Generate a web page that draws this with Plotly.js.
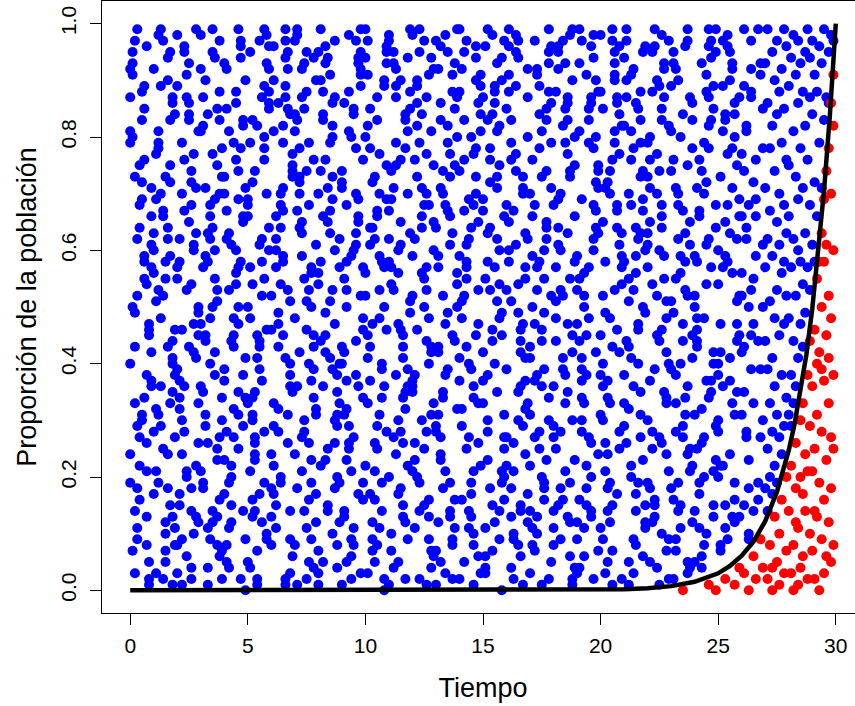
<!DOCTYPE html>
<html>
<head>
<meta charset="utf-8">
<script src="https://cdn.plot.ly/plotly-3.0.1.min.js"></script>
<style>
html,body{margin:0;padding:0;overflow:hidden;background:#ffffff;}
#chart{width:866px;height:706px;}
</style>
</head>
<body>
<div id="chart"></div>
<script>
// ---- axis ticks ----
const ticksX = [0, 5, 10, 15, 20, 25, 30];
const ticksY = [0, 0.2, 0.4, 0.6, 0.8, 1.0];

// ---- black curve ----
const curvaT = [0, 5, 10, 15, 18, 20, 21, 22, 23, 24, 25, 25.5, 26, 26.5, 27, 27.5, 28, 28.25, 28.5, 28.75, 29, 29.25, 29.5, 29.75, 29.9, 30];
const curvaP = [0, 0, 0, 0, 0.0002, 0.0009, 0.0018, 0.0037, 0.0074, 0.015, 0.030, 0.043, 0.061, 0.086, 0.122, 0.174, 0.247, 0.294, 0.350, 0.416, 0.497, 0.592, 0.705, 0.839, 0.932, 1];

// ---- blue points, time 0 to 26.9 ----
const tiempoAzul = [
0.3,0.7,0.1,0.9,0.4,0.0,0.6,0.2,0.8,0.5,0.3,0.9,0.1,0.7,0.4,0.6,0.0,0.8,0.2,0.5,0.7,0.3,
0.4,0.9,0.0,0.6,0.2,0.7,0.5,0.1,0.8,0.3,0.0,0.4,0.9,0.7,0.2,0.6,0.1,0.5,0.8,0.3,0.9,0.2,
0.6,0.0,0.3,0.8,0.1,0.4,0.9,0.7,0.2,0.5,0.9,0.0,0.4,0.6,0.3,0.1,0.8,0.7,0.2,0.5,0.0,0.6,
1.8,1.2,1.5,1.0,1.6,1.9,1.3,1.1,1.7,1.4,1.2,1.8,1.6,1.0,1.9,1.5,1.1,1.3,1.7,1.4,1.8,1.6,
1.1,1.5,1.8,1.2,1.9,1.6,1.0,1.4,1.3,1.7,1.5,1.2,1.8,1.1,1.6,1.9,1.4,1.0,1.7,1.3,1.5,1.8,
1.2,1.8,1.4,1.7,1.0,1.5,1.1,1.9,1.6,1.3,1.7,1.2,1.0,1.5,1.8,1.4,1.6,1.3,1.9,1.1,1.2,1.7,
2.4,2.9,2.0,2.6,2.2,2.7,2.5,2.1,2.8,2.3,2.0,2.4,2.9,2.7,2.2,2.6,2.1,2.5,2.8,2.3,2.9,2.2,
2.6,2.0,2.3,2.8,2.1,2.4,2.9,2.7,2.2,2.5,2.9,2.0,2.4,2.6,2.3,2.1,2.8,2.7,2.2,2.5,2.0,2.6,
2.9,2.4,2.6,2.1,2.5,2.3,2.7,2.0,2.2,2.8,2.1,2.6,2.3,2.9,2.0,2.7,2.5,2.2,2.4,2.8,2.6,2.1,
3.1,3.5,3.8,3.2,3.9,3.6,3.0,3.4,3.3,3.7,3.5,3.2,3.8,3.1,3.6,3.9,3.4,3.0,3.7,3.3,3.5,3.8,
3.2,3.8,3.4,3.7,3.0,3.5,3.1,3.9,3.6,3.3,3.7,3.2,3.0,3.5,3.8,3.4,3.6,3.3,3.9,3.1,3.2,3.7,
3.3,3.7,3.1,3.9,3.4,3.0,3.6,3.2,3.8,3.5,3.3,3.9,3.1,3.7,3.4,3.6,3.0,3.8,3.2,3.5,3.7,3.3,
4.6,4.0,4.3,4.8,4.1,4.4,4.9,4.7,4.2,4.5,4.9,4.0,4.4,4.6,4.3,4.1,4.8,4.7,4.2,4.5,4.0,4.6,
4.9,4.4,4.6,4.1,4.5,4.3,4.7,4.0,4.2,4.8,4.1,4.6,4.3,4.9,4.0,4.7,4.5,4.2,4.4,4.8,4.6,4.1,
4.8,4.2,4.5,4.0,4.6,4.9,4.3,4.1,4.7,4.4,4.2,4.8,4.6,4.0,4.9,4.5,4.1,4.3,4.7,4.4,4.8,4.6,
5.2,5.8,5.4,5.7,5.0,5.5,5.1,5.9,5.6,5.3,5.7,5.2,5.0,5.5,5.8,5.4,5.6,5.3,5.9,5.1,5.2,5.7,
5.3,5.7,5.1,5.9,5.4,5.0,5.6,5.2,5.8,5.5,5.3,5.9,5.1,5.7,5.4,5.6,5.0,5.8,5.2,5.5,5.7,5.3,
5.4,5.9,5.0,5.6,5.2,5.7,5.5,5.1,5.8,5.3,5.0,5.4,5.9,5.7,5.2,5.6,5.1,5.5,5.8,5.3,5.9,5.2,
6.9,6.4,6.6,6.1,6.5,6.3,6.7,6.0,6.2,6.8,6.1,6.6,6.3,6.9,6.0,6.7,6.5,6.2,6.4,6.8,6.6,6.1,
6.8,6.2,6.5,6.0,6.6,6.9,6.3,6.1,6.7,6.4,6.2,6.8,6.6,6.0,6.9,6.5,6.1,6.3,6.7,6.4,6.8,6.6,
6.1,6.5,6.8,6.2,6.9,6.6,6.0,6.4,6.3,6.7,6.5,6.2,6.8,6.1,6.6,6.9,6.4,6.0,6.7,6.3,6.5,6.8,
7.3,7.7,7.1,7.9,7.4,7.0,7.6,7.2,7.8,7.5,7.3,7.9,7.1,7.7,7.4,7.6,7.0,7.8,7.2,7.5,7.7,7.3,
7.1,7.5,7.8,7.2,7.9,7.6,7.0,7.4,7.3,7.7,7.5,7.2,7.8,7.1,7.6,7.9,7.4,7.0,7.7,7.3,7.5,7.8,
7.9,7.4,7.6,7.1,7.5,7.3,7.7,7.0,7.2,7.8,7.1,7.6,7.3,7.9,7.0,7.7,7.5,7.2,7.4,7.8,7.6,7.1,
8.8,8.2,8.5,8.0,8.6,8.9,8.3,8.1,8.7,8.4,8.2,8.8,8.6,8.0,8.9,8.5,8.1,8.3,8.7,8.4,8.8,8.6,
8.6,8.0,8.3,8.8,8.1,8.4,8.9,8.7,8.2,8.5,8.9,8.0,8.4,8.6,8.3,8.1,8.8,8.7,8.2,8.5,8.0,8.6,
8.3,8.7,8.1,8.9,8.4,8.0,8.6,8.2,8.8,8.5,8.3,8.9,8.1,8.7,8.4,8.6,8.0,8.8,8.2,8.5,8.7,8.3,
9.4,9.9,9.0,9.6,9.2,9.7,9.5,9.1,9.8,9.3,9.0,9.4,9.9,9.7,9.2,9.6,9.1,9.5,9.8,9.3,9.9,9.2,
9.2,9.8,9.4,9.7,9.0,9.5,9.1,9.9,9.6,9.3,9.7,9.2,9.0,9.5,9.8,9.4,9.6,9.3,9.9,9.1,9.2,9.7,
9.8,9.2,9.5,9.0,9.6,9.9,9.3,9.1,9.7,9.4,9.2,9.8,9.6,9.0,9.9,9.5,9.1,9.3,9.7,9.4,9.8,9.6,
10.1,10.5,10.8,10.2,10.9,10.6,10.0,10.4,10.3,10.7,10.5,10.2,10.8,10.1,10.6,10.9,10.4,10.0,10.7,10.3,10.5,10.8,
10.9,10.4,10.6,10.1,10.5,10.3,10.7,10.0,10.2,10.8,10.1,10.6,10.3,10.9,10.0,10.7,10.5,10.2,10.4,10.8,10.6,10.1,
10.4,10.9,10.0,10.6,10.2,10.7,10.5,10.1,10.8,10.3,10.0,10.4,10.9,10.7,10.2,10.6,10.1,10.5,10.8,10.3,10.9,10.2,
11.6,11.0,11.3,11.8,11.1,11.4,11.9,11.7,11.2,11.5,11.9,11.0,11.4,11.6,11.3,11.1,11.8,11.7,11.2,11.5,11.0,11.6,
11.3,11.7,11.1,11.9,11.4,11.0,11.6,11.2,11.8,11.5,11.3,11.9,11.1,11.7,11.4,11.6,11.0,11.8,11.2,11.5,11.7,11.3,
11.1,11.5,11.8,11.2,11.9,11.6,11.0,11.4,11.3,11.7,11.5,11.2,11.8,11.1,11.6,11.9,11.4,11.0,11.7,11.3,11.5,11.8,
12.2,12.8,12.4,12.7,12.0,12.5,12.1,12.9,12.6,12.3,12.7,12.2,12.0,12.5,12.8,12.4,12.6,12.3,12.9,12.1,12.2,12.7,
12.8,12.2,12.5,12.0,12.6,12.9,12.3,12.1,12.7,12.4,12.2,12.8,12.6,12.0,12.9,12.5,12.1,12.3,12.7,12.4,12.8,12.6,
12.6,12.0,12.3,12.8,12.1,12.4,12.9,12.7,12.2,12.5,12.9,12.0,12.4,12.6,12.3,12.1,12.8,12.7,12.2,12.5,12.0,12.6,
13.9,13.4,13.6,13.1,13.5,13.3,13.7,13.0,13.2,13.8,13.1,13.6,13.3,13.9,13.0,13.7,13.5,13.2,13.4,13.8,13.6,13.1,
13.4,13.9,13.0,13.6,13.2,13.7,13.5,13.1,13.8,13.3,13.0,13.4,13.9,13.7,13.2,13.6,13.1,13.5,13.8,13.3,13.9,13.2,
13.2,13.8,13.4,13.7,13.0,13.5,13.1,13.9,13.6,13.3,13.7,13.2,13.0,13.5,13.8,13.4,13.6,13.3,13.9,13.1,13.2,13.7,
14.3,14.7,14.1,14.9,14.4,14.0,14.6,14.2,14.8,14.5,14.3,14.9,14.1,14.7,14.4,14.6,14.0,14.8,14.2,14.5,14.7,14.3,
14.6,14.0,14.3,14.8,14.1,14.4,14.9,14.7,14.2,14.5,14.9,14.0,14.4,14.6,14.3,14.1,14.8,14.7,14.2,14.5,14.0,14.6,
14.8,14.2,14.5,14.0,14.6,14.9,14.3,14.1,14.7,14.4,14.2,14.8,14.6,14.0,14.9,14.5,14.1,14.3,14.7,14.4,14.8,14.6,
15.8,15.2,15.5,15.0,15.6,15.9,15.3,15.1,15.7,15.4,15.2,15.8,15.6,15.0,15.9,15.5,15.1,15.3,15.7,15.4,15.8,15.6,
15.2,15.8,15.4,15.7,15.0,15.5,15.1,15.9,15.6,15.3,15.7,15.2,15.0,15.5,15.8,15.4,15.6,15.3,15.9,15.1,15.2,15.7,
15.4,15.9,15.0,15.6,15.2,15.7,15.5,15.1,15.8,15.3,15.0,15.4,15.9,15.7,15.2,15.6,15.1,15.5,15.8,15.3,15.9,15.2,
16.4,16.9,16.0,16.6,16.2,16.7,16.5,16.1,16.8,16.3,16.0,16.4,16.9,16.7,16.2,16.6,16.1,16.5,16.8,16.3,16.9,16.2,
16.9,16.4,16.6,16.1,16.5,16.3,16.7,16.0,16.2,16.8,16.1,16.6,16.3,16.9,16.0,16.7,16.5,16.2,16.4,16.8,16.6,16.1,
16.1,16.5,16.8,16.2,16.9,16.6,16.0,16.4,16.3,16.7,16.5,16.2,16.8,16.1,16.6,16.9,16.4,16.0,16.7,16.3,16.5,16.8,
17.1,17.5,17.8,17.2,17.9,17.6,17.0,17.4,17.3,17.7,17.5,17.2,17.8,17.1,17.6,17.9,17.4,17.0,17.7,17.3,17.5,17.8,
17.3,17.7,17.1,17.9,17.4,17.0,17.6,17.2,17.8,17.5,17.3,17.9,17.1,17.7,17.4,17.6,17.0,17.8,17.2,17.5,17.7,17.3,
17.6,17.0,17.3,17.8,17.1,17.4,17.9,17.7,17.2,17.5,17.9,17.0,17.4,17.6,17.3,17.1,17.8,17.7,17.2,17.5,17.0,17.6,
18.6,18.0,18.3,18.8,18.1,18.4,18.9,18.7,18.2,18.5,18.9,18.0,18.4,18.6,18.3,18.1,18.8,18.7,18.2,18.5,18.0,18.6,
18.8,18.2,18.5,18.0,18.6,18.9,18.3,18.1,18.7,18.4,18.2,18.8,18.6,18.0,18.9,18.5,18.1,18.3,18.7,18.4,18.8,18.6,
18.2,18.8,18.4,18.7,18.0,18.5,18.1,18.9,18.6,18.3,18.7,18.2,18.0,18.5,18.8,18.4,18.6,18.3,18.9,18.1,18.2,18.7,
19.2,19.8,19.4,19.7,19.0,19.5,19.1,19.9,19.6,19.3,19.7,19.2,19.0,19.5,19.8,19.4,19.6,19.3,19.9,19.1,19.2,19.7,
19.4,19.9,19.0,19.6,19.2,19.7,19.5,19.1,19.8,19.3,19.0,19.4,19.9,19.7,19.2,19.6,19.1,19.5,19.8,19.3,19.9,19.2,
19.9,19.4,19.6,19.1,19.5,19.3,19.7,19.0,19.2,19.8,19.1,19.6,19.3,19.9,19.0,19.7,19.5,19.2,19.4,19.8,19.6,19.1,
20.9,20.4,20.6,20.1,20.5,20.3,20.7,20.0,20.2,20.8,20.1,20.6,20.3,20.9,20.0,20.7,20.5,20.2,20.4,20.8,20.6,20.1,
20.1,20.5,20.8,20.2,20.9,20.6,20.0,20.4,20.3,20.7,20.5,20.2,20.8,20.1,20.6,20.9,20.4,20.0,20.7,20.3,20.5,20.8,
20.3,20.7,20.1,20.9,20.4,20.0,20.6,20.2,20.8,20.5,20.3,20.9,20.1,20.7,20.4,20.6,20.0,20.8,20.2,20.5,20.7,20.3,
21.3,21.7,21.1,21.9,21.4,21.0,21.6,21.2,21.8,21.5,21.3,21.9,21.1,21.7,21.4,21.6,21.0,21.8,21.2,21.5,21.7,21.3,
21.2,21.8,21.4,21.7,21.0,21.5,21.1,21.9,21.6,21.3,21.7,21.2,21.0,21.5,21.8,21.4,21.6,21.3,21.9,21.1,21.2,21.7,
21.1,21.5,21.8,21.2,21.9,21.6,21.0,21.4,21.3,21.7,21.5,21.2,21.8,21.1,21.6,21.9,21.4,21.0,21.7,21.3,21.5,21.8,
22.8,22.2,22.5,22.0,22.6,22.9,22.3,22.1,22.7,22.4,22.2,22.8,22.6,22.0,22.9,22.5,22.1,22.3,22.7,22.4,22.8,22.6,
22.9,22.4,22.6,22.1,22.5,22.3,22.7,22.0,22.2,22.8,22.1,22.6,22.3,22.9,22.0,22.7,22.5,22.2,22.4,22.8,22.6,22.1,
22.6,22.0,22.3,22.8,22.1,22.4,22.9,22.7,22.2,22.5,22.9,22.0,22.4,22.6,22.3,22.1,22.8,22.7,22.2,22.5,22.0,22.6,
23.4,23.9,23.0,23.6,23.2,23.7,23.5,23.1,23.8,23.3,23.0,23.4,23.9,23.7,23.2,23.6,23.1,23.5,23.8,23.3,23.9,23.2,
23.2,23.8,23.4,23.7,23.0,23.5,23.1,23.9,23.6,23.3,23.7,23.2,23.0,23.5,23.8,23.4,23.6,23.3,23.9,23.1,23.2,23.7,
23.3,23.7,23.1,23.9,23.4,23.0,23.6,23.2,23.8,23.5,23.3,23.9,23.1,23.7,23.4,23.6,23.0,23.8,23.2,23.5,23.7,
24.1,24.5,24.8,24.2,24.9,24.6,24.0,24.4,24.3,24.7,24.5,24.2,24.8,24.1,24.6,24.9,24.4,24.0,24.7,24.3,24.5,24.8,
24.9,24.4,24.6,24.1,24.5,24.3,24.7,24.0,24.2,24.8,24.1,24.6,24.3,24.9,24.0,24.7,24.5,24.2,24.4,24.8,24.6,24.1,
24.8,24.2,24.5,24.0,24.6,24.9,24.3,24.1,24.7,24.4,24.2,24.8,24.6,24.0,24.9,24.5,24.1,24.3,24.7,24.4,
25.6,25.0,25.3,25.8,25.1,25.4,25.9,25.7,25.2,25.5,25.9,25.0,25.4,25.6,25.3,25.1,25.8,25.7,25.2,25.5,25.0,25.6,
25.3,25.7,25.1,25.9,25.4,25.0,25.6,25.2,25.8,25.5,25.3,25.9,25.1,25.7,25.4,25.6,25.0,25.8,25.2,25.5,25.7,25.3,
25.4,25.9,25.0,25.6,25.2,25.7,25.5,25.1,25.8,25.3,25.0,25.4,25.9,25.7,25.2,25.6,25.1,25.5,25.8,
26.3,26.0,26.4,26.1,26.2,26.4,26.0,26.3,26.2,26.1,26.0,26.4,26.2,26.3,26.1,26.4,26.0,26.2,26.3,26.1,26.4,26.0,26.3,26.1,26.2,26.0,26.4,26.3,26.2,26.1,26.4,
26.7,26.5,26.9,26.6,26.8,26.5,26.9,26.7,26.6,26.8,26.9,26.5,26.7,26.8,26.6,26.5,26.9,26.7,26.6,26.8,26.5,26.9,26.6,26.7,26.8,26.5,26.9,26.6,26.8,26.7
];
const propAzul = [
0.52,0.08,0.91,0.37,0.64,0.19,0.76,0.43,0.02,0.88,0.29,0.57,0.95,0.13,0.68,0.34,0.81,0.05,0.49,0.72,0.26,0.99,
0.16,0.61,0.40,0.85,0.03,0.54,0.30,0.93,0.47,0.11,0.79,0.22,0.66,0.38,0.97,0.58,0.07,0.83,0.45,0.18,0.71,0.33,
0.89,0.24,0.62,0.01,0.50,0.75,0.36,0.96,0.14,0.69,0.42,0.87,0.27,0.59,0.09,0.80,0.46,0.21,0.73,0.31,0.92,0.55,
0.35,0.78,0.12,0.60,0.94,0.27,0.48,0.03,0.83,0.66,0.19,0.41,0.90,0.56,0.08,0.73,0.32,0.99,0.15,0.52,0.86,0.24,
0.69,0.05,0.44,0.81,0.38,0.62,0.17,0.97,0.29,0.75,0.10,0.53,0.87,0.21,0.64,0.46,0.02,0.92,0.33,0.70,0.58,0.13,
0.79,0.40,0.25,0.95,0.63,0.07,0.51,0.84,0.18,0.36,0.72,0.98,0.28,0.55,0.01,0.67,0.43,0.89,0.11,0.77,0.31,0.59,
0.91,0.26,0.57,0.04,0.70,0.42,0.83,0.15,0.63,0.36,0.98,0.20,0.49,0.77,0.09,0.54,0.32,0.86,0.13,0.67,0.45,0.01,
0.74,0.39,0.95,0.22,0.58,0.06,0.81,0.47,0.30,0.65,0.12,0.89,0.53,0.18,0.76,0.34,0.99,0.61,0.24,0.43,0.08,0.72,
0.50,0.87,0.14,0.37,0.93,0.28,0.60,0.03,0.79,0.41,0.17,0.68,0.96,0.33,0.55,0.10,0.84,0.46,0.21,0.71,0.02,0.62,
0.18,0.64,0.83,0.31,0.07,0.55,0.92,0.40,0.26,0.75,0.12,0.59,0.97,0.35,0.69,0.02,0.48,0.81,0.23,0.63,0.14,0.88,
0.44,0.70,0.09,0.53,0.36,0.95,0.19,0.78,0.60,0.04,0.85,0.29,0.47,0.99,0.16,0.66,0.38,0.11,0.73,0.57,0.90,0.25,
0.01,0.51,0.82,0.34,0.68,0.21,0.94,0.45,0.06,0.77,0.58,0.30,0.87,0.13,0.62,0.42,0.98,0.27,0.71,0.50,0.08,0.84,
0.47,0.93,0.20,0.66,0.05,0.79,0.34,0.58,0.11,0.86,0.41,0.73,0.27,0.99,0.15,0.62,0.38,0.02,0.81,0.54,0.23,0.69,
0.90,0.32,0.57,0.08,0.76,0.44,0.96,0.17,0.63,0.29,0.85,0.50,0.12,0.71,0.37,0.94,0.60,0.04,0.48,0.82,0.25,0.67,
0.14,0.53,0.88,0.39,0.74,0.00,0.61,0.28,0.97,0.45,0.19,0.83,0.35,0.70,0.09,0.56,0.92,0.22,0.78,0.43,0.65,0.31,
0.72,0.10,0.45,0.89,0.33,0.61,0.04,0.96,0.52,0.27,0.80,0.16,0.68,0.39,0.93,0.07,0.58,0.24,0.85,0.48,0.13,0.76,
0.35,0.99,0.21,0.64,0.02,0.50,0.87,0.30,0.70,0.43,0.14,0.92,0.57,0.19,0.82,0.37,0.66,0.09,0.54,0.97,0.28,0.74,
0.41,0.86,0.05,0.62,0.31,0.78,0.17,0.95,0.46,0.23,0.69,0.01,0.88,0.55,0.34,0.12,0.79,0.44,0.98,0.26,0.60,0.83,
0.06,0.54,0.87,0.29,0.71,0.43,0.95,0.18,0.62,0.36,0.81,0.02,0.49,0.77,0.24,0.92,0.58,0.11,0.68,0.40,0.97,0.33,
0.84,0.15,0.59,0.46,0.01,0.75,0.28,0.90,0.53,0.20,0.66,0.38,0.99,0.08,0.73,0.45,0.17,0.86,0.31,0.64,0.51,0.94,
0.22,0.79,0.03,0.57,0.35,0.89,0.13,0.70,0.47,0.26,0.82,0.60,0.09,0.96,0.41,0.74,0.19,0.52,0.85,0.32,0.67,0.14,
0.63,0.37,0.98,0.12,0.55,0.81,0.26,0.70,0.04,0.46,0.92,0.31,0.67,0.19,0.85,0.53,0.08,0.76,0.42,0.95,0.23,0.59,
0.01,0.88,0.34,0.64,0.17,0.79,0.48,0.93,0.27,0.57,0.11,0.72,0.39,0.83,0.05,0.61,0.30,0.97,0.50,0.21,0.74,0.45,
0.90,0.14,0.68,0.36,0.02,0.87,0.56,0.24,0.78,0.43,0.99,0.16,0.65,0.32,0.84,0.09,0.51,0.73,0.28,0.94,0.40,0.18,
0.29,0.84,0.51,0.07,0.73,0.40,0.96,0.22,0.60,0.15,0.88,0.35,0.69,0.03,0.57,0.79,0.44,0.93,0.18,0.65,0.31,0.82,
0.10,0.54,0.76,0.38,0.99,0.25,0.62,0.47,0.05,0.91,0.33,0.70,0.14,0.86,0.42,0.58,0.20,0.97,0.36,0.67,0.01,0.80,
0.49,0.26,0.74,0.12,0.94,0.56,0.39,0.83,0.08,0.63,0.45,0.19,0.90,0.30,0.71,0.53,0.95,0.04,0.66,0.41,0.87,0.23,
0.80,0.19,0.43,0.97,0.32,0.66,0.08,0.55,0.89,0.25,0.71,0.02,0.48,0.93,0.37,0.61,0.14,0.84,0.52,0.29,0.76,0.05,
0.58,0.91,0.21,0.69,0.40,0.11,0.86,0.34,0.63,0.98,0.17,0.50,0.74,0.27,0.92,0.06,0.44,0.81,0.57,0.13,0.68,0.36,
0.95,0.23,0.60,0.01,0.78,0.46,0.88,0.31,0.65,0.09,0.53,0.99,0.38,0.72,0.16,0.85,0.42,0.26,0.94,0.59,0.03,0.70,
0.41,0.67,0.02,0.85,0.28,0.53,0.94,0.16,0.72,0.39,0.08,0.61,0.90,0.33,0.77,0.46,0.21,0.99,0.58,0.12,0.83,0.36,
0.69,0.05,0.48,0.91,0.25,0.64,0.14,0.80,0.43,0.57,0.97,0.31,0.09,0.75,0.52,0.19,0.87,0.37,0.62,0.00,0.70,0.45,
0.26,0.93,0.56,0.11,0.78,0.34,0.66,0.03,0.89,0.47,0.22,0.73,0.96,0.40,0.17,0.59,0.82,0.29,0.50,0.07,0.95,0.64,
0.13,0.58,0.92,0.36,0.74,0.05,0.49,0.83,0.27,0.65,0.99,0.20,0.56,0.41,0.87,0.10,0.70,0.32,0.95,0.18,0.62,0.45,
0.79,0.02,0.54,0.88,0.30,0.67,0.15,0.93,0.39,0.76,0.24,0.51,0.07,0.84,0.60,0.34,0.97,0.22,0.71,0.46,0.12,0.89,
0.57,0.28,0.81,0.04,0.63,0.43,0.98,0.17,0.75,0.35,0.90,0.53,0.09,0.69,0.26,0.85,0.47,0.01,0.78,0.38,0.61,0.94,
0.86,0.31,0.64,0.09,0.52,0.97,0.23,0.75,0.44,0.02,0.68,0.90,0.37,0.15,0.81,0.56,0.28,0.95,0.60,0.11,0.73,0.40,
0.04,0.89,0.50,0.21,0.77,0.33,0.99,0.62,0.16,0.84,0.46,0.07,0.70,0.35,0.92,0.55,0.26,0.79,0.13,0.66,0.42,0.01,
0.87,0.59,0.19,0.94,0.38,0.71,0.06,0.48,0.82,0.25,0.65,0.98,0.30,0.53,0.14,0.76,0.43,0.91,0.20,0.68,0.36,0.57,
0.50,0.03,0.77,0.42,0.95,0.18,0.63,0.29,0.86,0.11,0.57,0.73,0.34,0.99,0.07,0.45,0.82,0.24,0.68,0.93,0.14,0.59,
0.38,0.80,0.01,0.66,0.27,0.91,0.49,0.12,0.75,0.35,0.97,0.21,0.54,0.88,0.05,0.61,0.43,0.79,0.16,0.70,0.32,0.96,
0.23,0.85,0.47,0.09,0.64,0.39,0.92,0.56,0.19,0.74,0.02,0.83,0.28,0.67,0.44,0.98,0.13,0.52,0.87,0.31,0.71,0.08,
0.25,0.70,0.48,0.91,0.14,0.59,0.36,0.83,0.06,0.64,0.97,0.22,0.51,0.78,0.40,0.01,0.88,0.33,0.67,0.17,0.94,0.55,
0.10,0.74,0.43,0.86,0.29,0.62,0.03,0.96,0.52,0.19,0.81,0.37,0.69,0.08,0.57,0.92,0.26,0.45,0.76,0.13,0.99,0.34,
0.65,0.05,0.80,0.41,0.21,0.89,0.58,0.32,0.73,0.11,0.95,0.47,0.68,0.02,0.84,0.39,0.16,0.61,0.90,0.27,0.53,0.77,
0.94,0.38,0.12,0.67,0.81,0.25,0.53,0.06,0.75,0.44,0.99,0.19,0.62,0.87,0.31,0.57,0.03,0.72,0.48,0.15,0.90,0.35,
0.58,0.21,0.84,0.09,0.69,0.40,0.96,0.27,0.51,0.78,0.14,0.63,0.33,0.89,0.00,0.46,0.73,0.18,0.97,0.55,0.30,0.82,
0.07,0.66,0.42,0.93,0.23,0.60,0.86,0.11,0.49,0.76,0.37,0.98,0.16,0.54,0.28,0.71,0.04,0.88,0.45,0.64,0.20,0.83,
0.61,0.17,0.85,0.42,0.04,0.73,0.30,0.96,0.55,0.21,0.68,0.89,0.12,0.47,0.79,0.36,0.99,0.08,0.63,0.26,0.92,0.51,
0.33,0.77,0.15,0.58,0.94,0.02,0.70,0.39,0.83,0.24,0.65,0.46,0.10,0.87,0.53,0.29,0.97,0.18,0.74,0.41,0.06,0.60,
0.91,0.35,0.57,0.13,0.80,0.44,0.22,0.95,0.67,0.01,0.49,0.76,0.32,0.88,0.14,0.62,0.98,0.27,0.71,0.09,0.54,0.37,
0.08,0.46,0.93,0.27,0.71,0.55,0.14,0.84,0.38,0.62,0.01,0.97,0.30,0.76,0.19,0.52,0.89,0.43,0.65,0.10,0.81,0.34,
0.92,0.23,0.59,0.05,0.78,0.41,0.16,0.68,0.99,0.36,0.53,0.86,0.11,0.74,0.28,0.60,0.03,0.95,0.47,0.20,0.83,0.57,
0.39,0.70,0.13,0.88,0.50,0.25,0.96,0.64,0.07,0.44,0.79,0.31,0.58,0.18,0.91,0.66,0.02,0.85,0.37,0.73,0.22,0.49,
0.77,0.29,0.53,0.02,0.88,0.41,0.66,0.19,0.95,0.33,0.58,0.11,0.82,0.47,0.70,0.25,0.99,0.06,0.61,0.38,0.14,0.86,
0.45,0.92,0.21,0.68,0.35,0.80,0.09,0.57,0.73,0.16,0.96,0.42,0.63,0.27,0.04,0.85,0.51,0.18,0.74,0.39,0.90,0.13,
0.64,0.30,0.97,0.55,0.08,0.79,0.44,0.23,0.87,0.60,0.12,0.69,0.36,0.93,0.01,0.52,0.83,0.28,0.75,0.48,0.15,0.98,
0.34,0.90,0.15,0.62,0.47,0.83,0.04,0.71,0.26,0.56,0.98,0.39,0.12,0.79,0.64,0.22,0.87,0.50,0.07,0.93,0.41,0.68,
0.18,0.75,0.53,0.96,0.30,0.02,0.85,0.44,0.67,0.11,0.59,0.91,0.24,0.78,0.37,0.14,0.99,0.48,0.72,0.06,0.63,0.28,
0.88,0.45,0.20,0.81,0.57,0.33,0.94,0.09,0.69,0.42,0.16,0.86,0.52,0.74,0.03,0.60,0.27,0.97,0.38,0.80,0.13,0.55,
0.59,0.12,0.81,0.36,0.97,0.24,0.68,0.45,0.03,0.77,0.52,0.90,0.18,0.63,0.31,0.86,0.07,0.49,0.74,0.28,0.95,0.40,
0.65,0.01,0.84,0.21,0.57,0.93,0.38,0.70,0.14,0.46,0.99,0.26,0.61,0.09,0.79,0.54,0.33,0.88,0.17,0.72,0.43,0.96,
0.05,0.67,0.30,0.82,0.48,0.11,0.91,0.58,0.25,0.76,0.37,0.02,0.85,0.64,0.19,0.53,0.98,0.42,0.71,0.15,0.87,0.34,
0.20,0.73,0.44,0.96,0.09,0.58,0.85,0.32,0.67,0.14,0.91,0.49,0.26,0.79,0.03,0.62,0.38,0.95,0.55,0.17,0.83,0.41,
0.70,0.06,0.53,0.88,0.29,0.64,0.97,0.12,0.46,0.76,0.35,0.01,0.82,0.59,0.23,0.92,0.40,0.68,0.15,0.87,0.51,0.31,
0.99,0.08,0.74,0.43,0.60,0.19,0.94,0.36,0.81,0.27,0.56,0.05,0.69,0.90,0.47,0.11,0.78,0.33,0.63,0.22,0.86,0.50,
0.48,0.95,0.27,0.63,0.10,0.82,0.39,0.71,0.55,0.04,0.88,0.33,0.66,0.19,0.97,0.44,0.76,0.13,0.59,0.90,0.24,0.68,
0.02,0.52,0.85,0.37,0.74,0.16,0.93,0.61,0.28,0.07,0.80,0.46,0.99,0.21,0.57,0.35,0.89,0.12,0.70,0.42,0.64,0.05,
0.83,0.30,0.96,0.51,0.18,0.77,0.40,0.87,0.25,0.60,0.09,0.73,0.45,0.98,0.15,0.65,0.34,0.92,0.54,0.01,0.79,0.26,
0.56,0.12,0.89,0.34,0.71,0.03,0.47,0.93,0.25,0.62,0.18,0.80,0.41,0.97,0.07,0.53,0.76,0.29,0.65,0.14,0.86,0.38,
0.92,0.21,0.59,0.05,0.74,0.44,0.16,0.83,0.31,0.68,0.99,0.09,0.51,0.27,0.87,0.40,0.63,0.19,0.78,0.02,0.55,0.36,
0.70,0.24,0.95,0.45,0.11,0.81,0.58,0.33,0.04,0.67,0.90,0.22,0.49,0.75,0.15,0.96,0.39,0.61,0.28,0.84,0.52,
0.43,0.88,0.15,0.67,0.29,0.96,0.52,0.08,0.74,0.37,0.61,0.19,0.85,0.46,0.99,0.23,0.70,0.05,0.57,0.32,0.91,0.13,
0.64,0.27,0.82,0.48,0.10,0.93,0.35,0.59,0.76,0.21,0.44,0.87,0.06,0.68,0.31,0.97,0.54,0.17,0.79,0.40,0.62,0.25,
0.89,0.11,0.72,0.50,0.34,0.95,0.04,0.58,0.83,0.20,0.66,0.42,0.78,0.14,0.99,0.37,
0.71,0.26,0.94,0.48,0.13,0.60,0.83,0.35,0.07,0.77,0.52,0.19,0.89,0.41,0.66,0.30,0.98,0.56,0.11,0.73,0.44,0.86,
0.22,0.63,0.38,0.92,0.15,0.80,0.47,0.69,0.09,0.54,0.33,0.97,0.75,0.24,0.59,0.87,0.42,0.16,0.68,0.93,0.28,0.51,
0.81,0.37,0.12,0.65,0.96,0.45,0.20,0.78,0.57,0.31,0.90,0.08,0.62,0.84,0.40,
0.58,0.13,0.84,0.36,0.71,0.22,0.95,0.47,0.10,0.66,0.39,0.89,0.27,0.53,0.77,0.18,0.62,0.99,0.31,0.45,0.82,0.09,0.74,0.92,0.56,0.28,0.68,0.15,0.87,0.42,0.50,
0.35,0.81,0.52,0.97,0.23,0.64,0.43,0.88,0.16,0.72,0.30,0.59,0.93,0.47,0.78,0.19,0.66,0.39,0.85,0.55,0.99,0.27,0.69,0.14,0.61,0.44,0.76,0.91,0.33,0.50
];

// ---- blue points next to the curve, time 27 to 29.9 ----
const tiempoAzulCola = [
27.0,27.0,27.0,27.0,27.0, 27.1,27.1,27.1,27.1,27.1,27.1, 27.2,27.2,27.2,27.2,27.2,
27.3,27.3,27.3,27.3,27.3,27.3, 27.4,27.4,27.4,27.4,27.4, 27.5,27.5,27.5,27.5,27.5,27.5,
27.6,27.6,27.6,27.6,27.6, 27.7,27.7,27.7,27.7,27.7, 27.8,27.8,27.8,27.8,27.8,27.8, 27.9,27.9,27.9,27.9,27.9,
28.0,28.0,28.0,28.0,28.0, 28.1,28.1,28.1,28.1, 28.2,28.2,28.2,28.2,28.2, 28.3,28.3,28.3,28.3,
28.4,28.4,28.4,28.4,28.4, 28.5,28.5,28.5,28.5, 28.6,28.6,28.6,28.6, 28.7,28.7,28.7,28.7,
28.8,28.8,28.8, 28.9,28.9,28.9,28.9,
29.0,29.0,29.0, 29.1,29.1,29.1, 29.2,29.2, 29.3,29.3, 29.4,29.4, 29.5,29.5, 29.6, 29.7,29.7, 29.8, 29.9
];
const propAzulCola = [
0.18,0.44,0.71,0.93,0.57, 0.25,0.62,0.86,0.39,0.99,0.14, 0.33,0.78,0.51,0.20,0.67,
0.41,0.95,0.17,0.59,0.82,0.28, 0.22,0.48,0.74,0.36,0.90, 0.53,0.19,0.84,0.65,0.31,0.97,
0.27,0.70,0.45,0.88,0.61, 0.38,0.92,0.24,0.56,0.79, 0.47,0.68,0.29,0.85,0.99,0.58, 0.34,0.76,0.52,0.96,0.63,
0.31,0.66,0.89,0.48,0.75, 0.38,0.57,0.94,0.29, 0.44,0.81,0.62,0.98,0.33, 0.52,0.73,0.36,0.91,
0.41,0.86,0.60,0.69,0.97, 0.47,0.78,0.58,0.93, 0.54,0.88,0.43,0.71, 0.63,0.95,0.49,0.82,
0.57,0.76,0.99, 0.68,0.87,0.53,0.94,
0.61,0.84,0.97, 0.72,0.58,0.91, 0.66,0.88, 0.79,0.96, 0.71,0.93, 0.83,0.99, 0.87, 0.95,0.86, 0.98, 0.97
];

// ---- red points (below the curve) ----
const tiempoRojo = [
23.5,24.6,24.9,25.3,25.7,25.9,
26.1,26.3,26.5,26.6,26.8,26.9,
27.1,27.2,27.3,27.4,27.5,27.6,27.6,27.7,27.8,27.9,27.9,27.3,
28.0,28.1,28.1,28.2,28.3,28.3,28.4,28.4,28.5,28.5,28.6,28.6,
28.7,28.7,28.8,28.8,28.9,28.9,28.2,28.5,28.9,28.6,28.3,28.8,
29.0,29.0,29.1,29.1,29.1,29.2,29.2,29.2,29.3,29.3,29.3,29.3,
29.4,29.4,29.4,29.4,29.5,29.5,29.5,29.5,29.5,29.6,29.6,29.6,
29.6,29.6,29.7,29.7,29.7,29.7,29.7,29.8,29.8,29.8,29.8,29.8,
29.8,29.9,29.9,29.9,29.9,29.9,29.9,29.0,29.2,29.4,29.1
];
const propRojo = [
0.00,0.01,0.00,0.02,0.01,0.04,
0.03,0.00,0.06,0.02,0.09,0.04,
0.02,0.08,0.00,0.13,0.05,0.10,0.01,0.16,0.03,0.20,0.07,0.04,
0.14,0.22,0.03,0.08,0.18,0.26,0.11,0.01,0.30,0.20,0.06,0.33,
0.24,0.14,0.02,0.38,0.29,0.10,0.00,0.04,0.44,0.17,0.12,0.21,
0.36,0.07,0.46,0.25,0.02,0.55,0.31,0.13,0.42,0.19,0.58,0.00,
0.50,0.28,0.09,0.63,0.37,0.16,0.58,0.03,0.69,0.45,0.23,0.74,
0.06,0.61,0.33,0.12,0.52,0.78,0.41,0.27,0.05,0.70,0.86,0.18,
0.48,0.38,0.60,0.91,0.08,0.82,0.25,0.21,0.40,0.39,0.14
];

// ---- build traces ----
const nAzul = Math.min(tiempoAzul.length, propAzul.length);
const nCola = Math.min(tiempoAzulCola.length, propAzulCola.length);
const nRojo = Math.min(tiempoRojo.length, propRojo.length);

const xAzul = tiempoAzul.slice(0, nAzul).concat(tiempoAzulCola.slice(0, nCola));
const yAzul = propAzul.slice(0, nAzul).concat(propAzulCola.slice(0, nCola));

const fontFam = 'Liberation Sans, Arimo, Arial, Helvetica, sans-serif';

const traces = [
  {
    type: 'scatter', mode: 'markers', name: 'azul',
    x: xAzul, y: yAzul,
    marker: {color: '#0000ff', size: 10, line: {width: 0}},
    hoverinfo: 'skip'
  },
  {
    type: 'scatter', mode: 'markers', name: 'rojo',
    x: tiempoRojo.slice(0, nRojo), y: propRojo.slice(0, nRojo),
    marker: {color: '#ff0000', size: 10, line: {width: 0}},
    hoverinfo: 'skip'
  },
  {
    type: 'scatter', mode: 'lines', name: 'curva',
    x: curvaT, y: curvaP,
    line: {color: '#000000', width: 4.5},
    hoverinfo: 'skip'
  }
];

const layout = {
  width: 866, height: 706,
  margin: {l: 102, r: 2, t: 1, b: 93, pad: 0},
  paper_bgcolor: '#ffffff', plot_bgcolor: '#ffffff',
  showlegend: false,
  font: {family: fontFam, size: 21, color: '#000000'},
  xaxis: {
    range: [-1.2, 31.2],
    tickvals: ticksX,
    ticks: 'outside', ticklen: 11, tickwidth: 1, tickcolor: '#000000',
    ticklabelstandoff: 3,
    showline: true, mirror: true, linecolor: '#000000', linewidth: 1.2,
    showgrid: false, zeroline: false,
    tickfont: {family: fontFam, size: 21, color: '#000000'},
    title: {text: 'Tiempo', font: {family: fontFam, size: 27, color: '#000000'}, standoff: 21}
  },
  yaxis: {
    range: [-0.04, 1.04],
    tickvals: ticksY, tickformat: '.1f', tickangle: -90,
    ticks: 'outside', ticklen: 11, tickwidth: 1, tickcolor: '#000000',
    ticklabelstandoff: 5,
    showline: true, mirror: true, linecolor: '#000000', linewidth: 1.2,
    showgrid: false, zeroline: false,
    tickfont: {family: fontFam, size: 21, color: '#000000'},
    title: {text: 'Proporción de la población', font: {family: fontFam, size: 27, color: '#000000'}, standoff: 13}
  }
};

Plotly.newPlot('chart', traces, layout, {displayModeBar: false, staticPlot: true});
</script>
</body>
</html>
